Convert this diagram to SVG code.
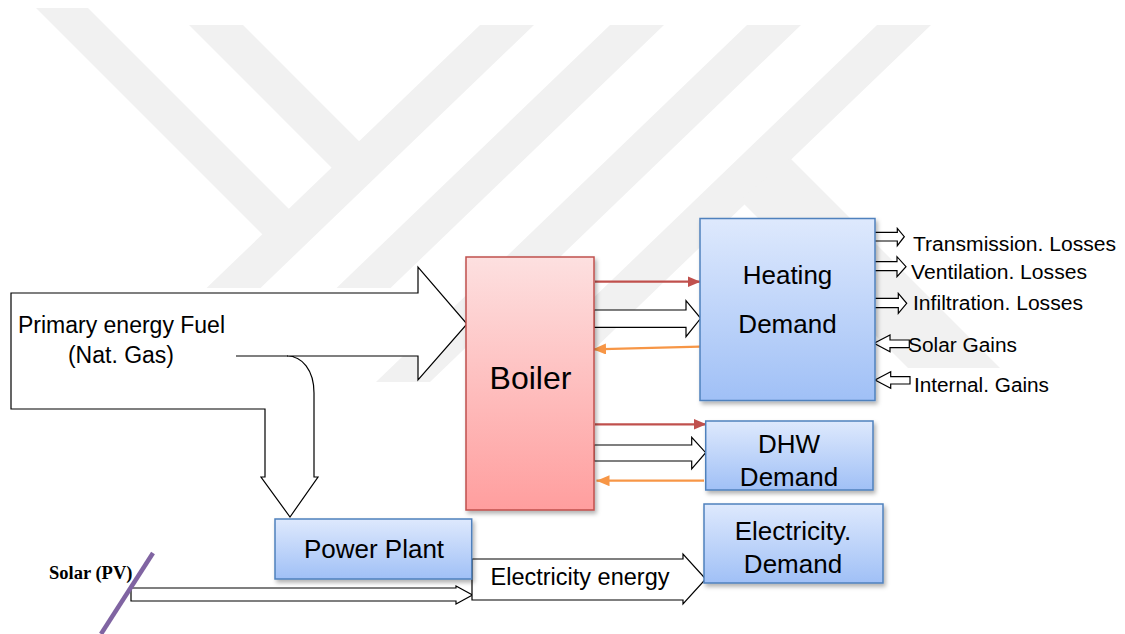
<svg xmlns="http://www.w3.org/2000/svg" width="1125" height="634" viewBox="0 0 1125 634">
<defs>
<linearGradient id="gBlue" x1="0" y1="0" x2="0" y2="1">
<stop offset="0" stop-color="#dee9fd"/>
<stop offset="1" stop-color="#a0c0f6"/>
</linearGradient>
<linearGradient id="gRed" x1="0" y1="0" x2="0" y2="1">
<stop offset="0" stop-color="#fde0e0"/>
<stop offset="1" stop-color="#ff9e9e"/>
</linearGradient>
<filter id="shadow" x="-10%" y="-10%" width="125%" height="130%">
<feDropShadow dx="2" dy="3" stdDeviation="2" flood-color="#000" flood-opacity="0.3"/>
</filter>
<marker id="mRed" markerUnits="userSpaceOnUse" markerWidth="14" markerHeight="12" refX="13" refY="5.5" orient="auto">
<path d="M0,0 L13,5.5 L0,11 Z" fill="#c0504d"/>
</marker>
<marker id="mOrange" markerUnits="userSpaceOnUse" markerWidth="14" markerHeight="12" refX="13" refY="5.5" orient="auto">
<path d="M0,0 L13,5.5 L0,11 Z" fill="#f79646"/>
</marker>
</defs>
<style>
.wm{fill:#f1f1f1;stroke:none}
.blue{fill:url(#gBlue);stroke:#4f81bd;stroke-width:1.5;filter:url(#shadow)}
.red{fill:url(#gRed);stroke:#c0504d;stroke-width:1.5;filter:url(#shadow)}
.block{fill:#ffffff;stroke:#000000;stroke-width:1.2;stroke-linejoin:miter}
.lr{stroke:#c0504d;stroke-width:2.2;fill:none}
.lo{stroke:#f79646;stroke-width:2.2;fill:none}
.t{font-family:"Liberation Sans",Arial,sans-serif;fill:#000000}
.big{font-size:26px;text-anchor:middle}
.side{font-size:20px}
</style>
<rect x="0" y="0" width="1125" height="634" fill="#ffffff"/>
<g id="watermark">
<polygon class="wm" points="36,8 88,8 302,222 275.5,247.5"/>
<polygon class="wm" points="189,25 243,25 372.4,154.4 344.9,180.9"/>
<polygon class="wm" points="480,25 534,25 260.5,288 206.5,288"/>
<polygon class="wm" points="610,25 664,25 390.5,288 336.5,288"/>
<polygon class="wm" points="747,25 801,25 430,382 376,382"/>
<polygon class="wm" points="877,25 931,25 560,382 506,382"/>
<polygon class="wm" points="790,158 1000,368 908,368 740,200"/>
</g>
<g id="connectors">
<path id="fuel-arrow" class="block" d="M11,293 H418 V267 L467,324 L418,380 V356 H287 C302,356 314,370 314,393 V477 H318 L290,517 L261,477 H265 V409 H11 Z"/>
<line class="block" x1="236" y1="356" x2="288" y2="356"/>
<path id="pv-arrow" class="block" d="M131,588 H456 V586 L472.5,595 L456,604 V601 H131 Z"/>
<line id="pv-line" x1="153" y1="553" x2="101" y2="634" stroke="#8064a2" stroke-width="4.5"/>
<path id="elec-arrow" class="block" d="M472,559 H683 V554 L705.7,579 L683,604 V600 H472 Z"/>
<path id="boiler-heating-block" class="block" d="M594,310 H686 V300.7 L700.7,318.3 L686,336.7 V327.3 H594 Z"/>
<path id="boiler-dhw-block" class="block" d="M594,445 H691.7 V437.3 L705.7,452.7 L691.7,469 V461 H594 Z"/>
<line class="lr" x1="595" y1="281.7" x2="700.5" y2="281.7" marker-end="url(#mRed)"/>
<line class="lo" x1="700" y1="346.7" x2="593" y2="349.3" marker-end="url(#mOrange)"/>
<line class="lr" x1="595" y1="424.3" x2="706.5" y2="424.3" marker-end="url(#mRed)"/>
<line class="lo" x1="704" y1="480.7" x2="596.5" y2="480.7" marker-end="url(#mOrange)"/>
<path class="block" d="M872.7,232.3 H897.3 V228.3 L904.3,236.7 L897.3,245.7 V241 H872.7 Z"/>
<path class="block" d="M874,261.7 H897 V256.7 L906,266.7 L897,276.7 V270.7 H874 Z"/>
<path class="block" d="M872.7,298.3 H898.3 V293.3 L906.7,303.3 L898.3,313.3 V307.7 H872.7 Z"/>
<path class="block" d="M874,343.3 L890,335 V340 H909.3 V347.7 H890 V351.7 Z"/>
<path class="block" d="M875,380 L890.7,371.7 V376.7 H910 V384 H890.7 V388.3 Z"/>
</g>
<g id="fuel-label">
<text class="t" x="121.5" y="333" font-size="23" text-anchor="middle">Primary energy Fuel</text>
<text class="t" x="121" y="363" font-size="23" text-anchor="middle">(Nat. Gas)</text>
</g>
<g id="solar-pv">
<text x="49" y="579" font-family="'Liberation Serif','Times New Roman',serif" font-weight="bold" font-size="18.5" fill="#000">Solar (PV)</text>
</g>
<g id="elec-label">
<text class="t" x="580" y="585" font-size="23.5" text-anchor="middle">Electricity energy</text>
</g>
<g id="boiler">
<rect class="red" x="466" y="257" width="128" height="253"/>
<text class="t" x="530.5" y="389" font-size="32" text-anchor="middle">Boiler</text>
</g>
<g id="heating-demand">
<rect class="blue" x="700" y="218.5" width="175" height="182"/>
<text class="t big" x="787.5" y="284">Heating</text>
<text class="t big" x="787.5" y="333">Demand</text>
</g>
<g id="dhw-demand">
<rect class="blue" x="705.7" y="421" width="167.3" height="69"/>
<text class="t big" x="789" y="453">DHW</text>
<text class="t big" x="789" y="486">Demand</text>
</g>
<g id="electricity-demand">
<rect class="blue" x="704" y="504" width="179" height="79"/>
<text class="t big" x="793" y="540">Electricity.</text>
<text class="t big" x="793" y="573">Demand</text>
</g>
<g id="power-plant">
<rect class="blue" x="275" y="519" width="196.7" height="60"/>
<text class="t big" x="374" y="558">Power Plant</text>
</g>
<g id="heat-flows">
<text class="t side" x="913" y="251" textLength="203" lengthAdjust="spacingAndGlyphs">Transmission. Losses</text>
<text class="t side" x="911" y="279" textLength="176" lengthAdjust="spacingAndGlyphs">Ventilation. Losses</text>
<text class="t side" x="913" y="310" textLength="170" lengthAdjust="spacingAndGlyphs">Infiltration. Losses</text>
<text class="t side" x="908" y="352" textLength="109" lengthAdjust="spacingAndGlyphs">Solar Gains</text>
<text class="t side" x="914" y="392" textLength="135" lengthAdjust="spacingAndGlyphs">Internal. Gains</text>
</g>
</svg>
